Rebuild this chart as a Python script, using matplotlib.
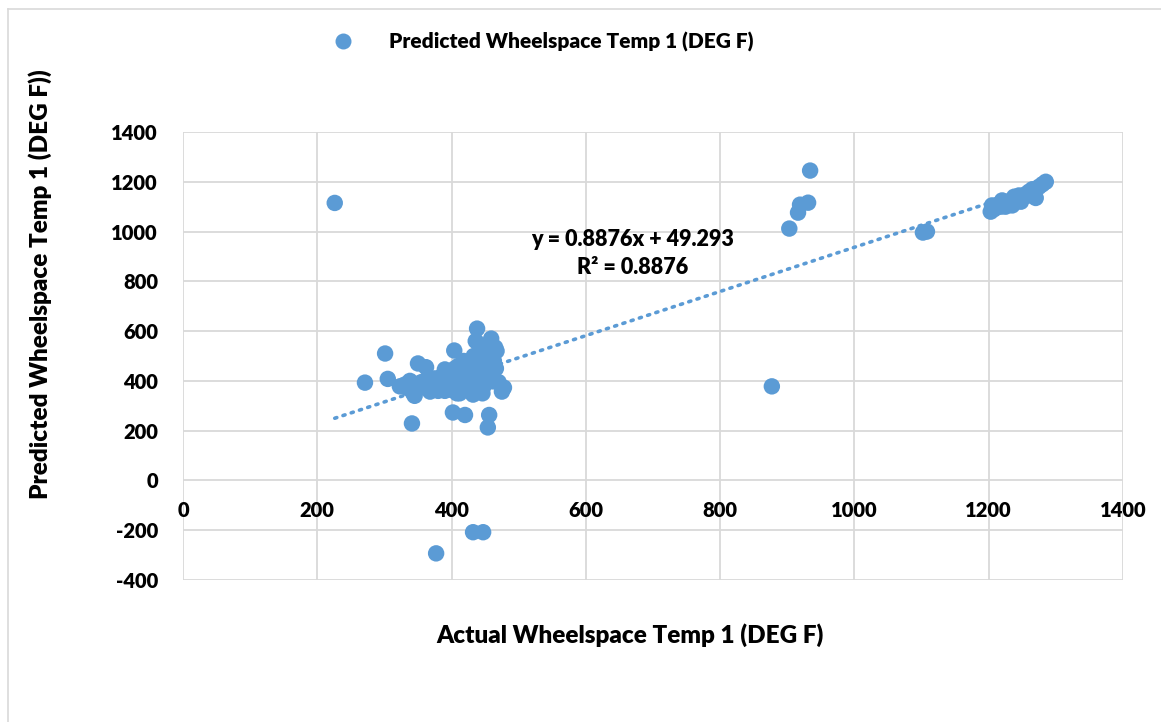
import matplotlib
matplotlib.use("Agg")
import matplotlib.pyplot as plt
from matplotlib.lines import Line2D
import numpy as np

plt.rcParams['font.family'] = ['Lato', 'DejaVu Sans']
plt.rcParams['font.weight'] = 'heavy'
plt.rcParams['axes.unicode_minus'] = False

# estimated readings: actual vs predicted wheelspace temp 1 (deg F)
actual = [
    226, 271, 301, 305, 323, 330, 338, 343, 345, 350, 355, 360, 362, 365, 368,
    370, 375, 378, 380, 383, 386, 390, 392, 395, 398, 400, 402, 404, 405, 408,
    410, 412, 414, 416, 418, 420, 421, 423, 425, 427, 428, 430, 432, 433, 435,
    436, 438, 439, 440, 441, 442, 444, 445, 446, 447, 448, 450, 452, 453, 455,
    457, 459, 460, 462, 463, 465, 467, 470, 475, 478, 440, 415, 400, 390, 385,
    375, 365, 355, 348, 340, 335, 425, 435, 445, 455, 418, 430, 410, 395, 405,
    420, 432, 412, 388, 352, 372, 382, 396, 428, 448, 458, 466,
    341, 402, 420, 456, 454, 377, 432, 447,
    877, 903, 916, 919, 931, 934, 1102, 1108,
    1203, 1205, 1208, 1210, 1215, 1218, 1220, 1225, 1228, 1230, 1235, 1238,
    1240, 1245, 1248, 1250, 1255, 1260, 1262, 1265, 1270, 1275, 1280, 1285,
]
predicted = [
    1115, 393, 510, 408, 378, 385, 400, 350, 340, 470, 380, 395, 455, 370, 357,
    390, 410, 380, 360, 395, 420, 446, 375, 400, 365, 430, 390, 522, 410, 350,
    460, 398, 440, 370, 480, 420, 405, 385, 450, 470, 360, 430, 345, 500, 415,
    560, 610, 455, 390, 480, 466, 520, 435, 350, 500, 540, 470, 420, 495, 510,
    530, 570, 505, 398, 480, 534, 520, 395, 357, 373, 370, 380, 370, 360, 385,
    395, 410, 395, 365, 380, 370, 395, 400, 410, 460, 455, 470, 430, 420, 450,
    440, 440, 350, 408, 385, 375, 400, 385, 380, 380, 440, 450,
    229, 273, 263, 263, 213, -293, -208, -208,
    378, 1012, 1076, 1108, 1116, 1245, 996, 1000,
    1080, 1105, 1090, 1095, 1110, 1100, 1125, 1100, 1120, 1115, 1105, 1140,
    1130, 1145, 1120, 1135, 1150, 1160, 1145, 1170, 1135, 1180, 1190, 1200,
]
slope = 0.8876
intercept = 49.293
r_squared = 0.8876

x_ticks = [0, 200, 400, 600, 800, 1000, 1200, 1400]
y_ticks = [-400, -200, 0, 200, 400, 600, 800, 1000, 1200, 1400]

blue = '#5b9bd5'
grid_col = '#d9d9d9'

fig = plt.figure(figsize=(11.61, 7.22), dpi=100)
ax = fig.add_axes([183 / 1161, 1 - 580 / 722, 940 / 1161, 448 / 722])

ax.scatter(actual, predicted, s=140, color=blue, edgecolors='none', zorder=3)

# linear trendline over the data range
tx = np.array([min(actual), max(actual)])
ax.plot(tx, slope * tx + intercept, color=blue, linewidth=2.6,
        linestyle=(0, (0.6, 1.8)), dash_capstyle='round', zorder=2)

ax.text(669, 912, 'y = %.4fx + %.3f\nR\u00b2 = %.4f' % (slope, intercept, r_squared),
        ha='center', va='center', fontsize=15.5, fontweight='heavy',
        linespacing=1.4, zorder=4)

ax.set_xlim(0, 1400)
ax.set_ylim(-400, 1400)
ax.set_xticks(x_ticks)
ax.set_yticks(y_ticks)
ax.grid(True, color=grid_col, linewidth=1.3)
ax.set_axisbelow(True)
for s in ax.spines.values():
    s.set_visible(False)
ax.tick_params(length=0, labelsize=14.5)
ax.spines['bottom'].set_position(('data', 0))
ax.tick_params(axis='x', pad=15)
ax.tick_params(axis='y', pad=18)
for lab in ax.get_xticklabels() + ax.get_yticklabels():
    lab.set_fontweight('heavy')

fig.text(630 / 1161, 1 - 635 / 722, 'Actual Wheelspace Temp 1 (DEG F)',
         ha='center', va='center', fontsize=17.5, fontweight='heavy')
fig.text(40 / 1161, 1 - 284 / 722, 'Predicted Wheelspace Temp 1 (DEG F))',
         ha='center', va='center', fontsize=17.5, fontweight='heavy', rotation=90)

handle = Line2D([], [], marker='o', linestyle='none', markersize=11.5,
                markerfacecolor=blue, markeredgecolor='none')
fig.legend([handle], ['Predicted Wheelspace Temp 1 (DEG F)'],
           loc='center', bbox_to_anchor=(538 / 1161, 1 - 42 / 722),
           frameon=False, prop={'size': 15, 'weight': 'heavy'},
           handletextpad=1.2)

# outer chart frame (top and left edges visible)
fig.add_artist(Line2D([8 / 1161, 1], [1 - 9 / 722, 1 - 9 / 722],
                      color=grid_col, linewidth=1.2))
fig.add_artist(Line2D([8 / 1161, 8 / 1161], [0, 1 - 9 / 722],
                      color=grid_col, linewidth=1.2))

fig.savefig('out.png', dpi=100)
